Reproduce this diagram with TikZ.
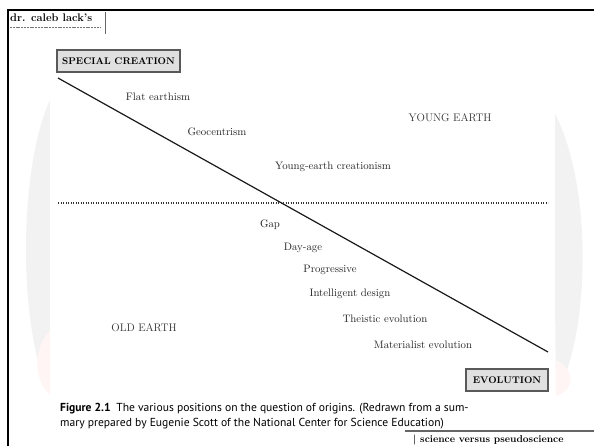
\documentclass[tikz,border=0pt]{standalone}
\usepackage{fontspec}
\newfontfamily\capfont{PT Sans}
\begin{document}
\begin{tikzpicture}[x=1pt,y=-1pt,
  lbl/.style={font=\fontsize{10.8}{12}\selectfont, inner sep=0pt, text=black!85},
  region/.style={font=\fontsize{11}{12}\selectfont, inner sep=0pt, text=black!80},
  endbox/.style={draw=black!65, line width=1.1pt, fill=black!12, font=\bfseries\fontsize{9.7}{11}\selectfont, minimum height=22pt, inner xsep=4pt, inner ysep=0pt},
  frame/.style={line width=2.4pt, black},
  divider/.style={line width=1.2pt, black!80, dash pattern=on 1.2pt off 1.3pt},
  slope/.style={line width=1.2pt, black!90},
  halo/.style={fill=black!5}
]
\useasboundingbox (0,0) rectangle (594,446);
\fill[white] (0,0) rectangle (594,446);

% faint watermark crescents
\fill[halo] (50,100) .. controls (18,170) and (18,330) .. (50,395) -- cycle;
\fill[red!4] (50,330) .. controls (32,350) and (34,380) .. (50,395) -- cycle;
\fill[halo] (553,110) .. controls (592,180) and (592,330) .. (556,396) -- cycle;
\fill[red!4] (556,360) .. controls (576,370) and (575,390) .. (556,396) -- cycle;
\fill[white] (50,38) rectangle (555,397);

% page frame
\coordinate (fbl) at (8,446);
\coordinate (ftl) at (8,10);
\coordinate (ftr) at (594,10);
\draw[frame] (fbl) -- (ftl) -- (ftr);

% running head
\node[font=\bfseries\fontsize{11}{12}\selectfont, anchor=west, inner sep=0pt] (hdr) at (10,18) {dr. caleb lack's};
\coordinate (u1) at (10,27.5);
\coordinate (u2) at (100,27.5);
\draw[black!55, line width=0.8pt, dash pattern=on 2pt off 0.8pt] (u1) -- (u2);
\coordinate (b1) at (105,12);
\coordinate (b2) at (105,34);
\draw[black!60, line width=1pt] (b1) -- (b2);

% end boxes
\node[endbox, minimum width=123pt] (sc) at (118.5,61) {SPECIAL CREATION};
\node[endbox, minimum width=82pt] (ev) at (507,380) {EVOLUTION};

% lines
\coordinate (d1) at (58,78);
\coordinate (d2) at (548,352);
\draw[slope] (d1) -- (d2);
\coordinate (h1) at (58,203);
\coordinate (h2) at (548,203);
\draw[divider] (h1) -- (h2);

% labels
\node[lbl] (flat) at (158,97) {Flat earthism};
\node[lbl] (geo) at (217,132) {Geocentrism};
\node[lbl] (yec) at (333,167) {Young-earth creationism};
\node[region] (ye) at (450,118) {YOUNG EARTH};
\node[lbl] (gap) at (270,225) {Gap};
\node[lbl] (day) at (303,248) {Day-age};
\node[lbl] (prog) at (330,270) {Progressive};
\node[lbl] (id) at (350,294) {Intelligent design};
\node[lbl] (the) at (385,319) {Theistic evolution};
\node[lbl] (mat) at (423,345) {Materialist evolution};
\node[region] (oe) at (144,328) {OLD EARTH};

% caption
\node[anchor=north west, inner sep=0pt, align=left, font=\capfont\fontsize{11.6}{15}\selectfont] (cap) at (60,403)
  {\textbf{Figure 2.1}\enspace The various positions on the question of origins. (Redrawn from a sum-\\
   mary prepared by Eugenie Scott of the National Center for Science Education)};

% footer
\coordinate (r1) at (405,431);
\coordinate (r2) at (594,431);
\draw[black!60, line width=1.2pt] (r1) -- (r2);
\node[anchor=west, inner sep=0pt, font=\bfseries\fontsize{10}{12}\selectfont] (ftr) at (413,439.5) {| science versus pseudoscience};
\end{tikzpicture}
\end{document}
